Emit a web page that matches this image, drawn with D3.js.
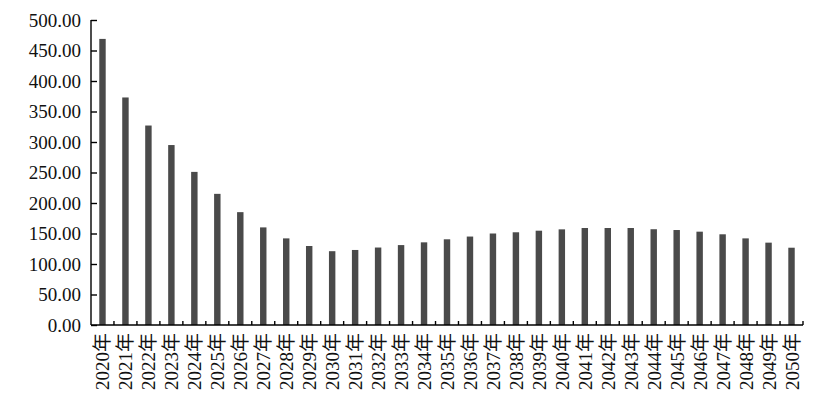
<!DOCTYPE html>
<html><head><meta charset="utf-8">
<script src="https://cdn.jsdelivr.net/npm/d3@7/dist/d3.min.js"></script>
<style>body{margin:0;background:#fff}svg{display:block}</style>
</head><body><svg id="c" width="832" height="406"></svg>
<script>
const categories = ["2020年","2021年","2022年","2023年","2024年","2025年","2026年","2027年","2028年","2029年","2030年","2031年","2032年","2033年","2034年","2035年","2036年","2037年","2038年","2039年","2040年","2041年","2042年","2043年","2044年","2045年","2046年","2047年","2048年","2049年","2050年"];
const values = [469, 373, 327, 295, 251, 215, 185, 160, 142, 129.5, 121, 123, 127, 131, 135.5, 140.5, 145, 150, 152, 154.6, 156.8, 159, 159, 159, 157, 155.7, 153, 148.7, 142, 135, 126.7];
const yTicks = [0,50,100,150,200,250,300,350,400,450,500];

const svg = d3.select("#c");
const m = {l:91, r:29, t:20, b:81};
const W = 832, H = 406;
const x = d3.scaleBand().domain(categories).range([m.l, W - m.r]).paddingInner(0.72).paddingOuter(0.36);
const y = d3.scaleLinear().domain([0,500]).range([H - m.b, m.t]);
const font = "'Liberation Serif','Times New Roman','Noto Sans CJK SC',serif";

svg.append("g").selectAll("rect").data(values).join("rect")
  .attr("x", (d,i)=>x(categories[i]))
  .attr("y", d=>y(d))
  .attr("width", x.bandwidth())
  .attr("height", d=>y(0)-y(d))
  .attr("fill", "#4a4a4a");

// y axis
const ya = svg.append("g").attr("transform", `translate(${m.l},0)`)
  .call(d3.axisLeft(y).tickValues(yTicks).tickSize(-6).tickPadding(10).tickFormat(d3.format(".2f")));
ya.select(".domain").attr("stroke","#000").attr("stroke-width",1.4).attr("d", `M0,${y(500)}V${y(0)}`);
ya.selectAll(".tick line").attr("stroke","#000").attr("stroke-width",1.4);
ya.selectAll("text").attr("font-family", font).attr("font-size", 19).attr("fill","#111");

// x axis
const xa = svg.append("g").attr("transform", `translate(0,${y(0)})`);
xa.append("line").attr("x1", m.l).attr("x2", W - m.r).attr("stroke","#000").attr("stroke-width",1.4);
const bounds = d3.range(categories.length + 1).map(i => m.l + i * (W - m.r - m.l) / categories.length);
xa.selectAll(".xt").data(bounds.slice(1)).join("line")
  .attr("x1", d=>d).attr("x2", d=>d).attr("y1", 0).attr("y2", -4)
  .attr("stroke","#000").attr("stroke-width",1.4);
xa.selectAll(".xl").data(categories).join("text")
  .attr("transform", d=>`translate(${x(d)+x.bandwidth()/2+7},8) rotate(-90)`)
  .attr("text-anchor","end")
  .attr("font-family", font).attr("font-size", 19).attr("fill","#111")
  .text(d=>d);
</script></body></html>
